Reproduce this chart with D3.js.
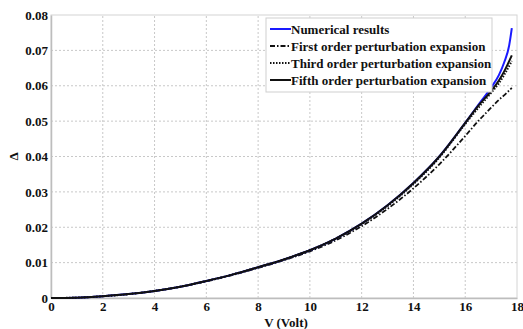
<!DOCTYPE html>
<html>
<head>
<meta charset="utf-8">
<script src="https://cdnjs.cloudflare.com/ajax/libs/d3/7.8.5/d3.min.js"></script>
<style>
  body { margin: 0; background: #fff; }
  text { font-family: "Liberation Serif", "Times New Roman", serif; font-weight: bold; }
</style>
</head>
<body>
<div id="chart"></div>
<script>
// values
var voltNum   = [0, 1, 2, 3, 4, 5, 6, 7, 8, 9, 10, 11, 12, 13, 14, 15, 16, 16.5, 17, 17.3, 17.5, 17.7, 17.8];
var numerical = [0, 0.0001, 0.0005, 0.0011, 0.002, 0.0032, 0.0048, 0.0066, 0.0087, 0.0109, 0.0135, 0.0168, 0.021, 0.0262, 0.0325, 0.040, 0.0495, 0.0545, 0.0595, 0.063, 0.0665, 0.0715, 0.0763];

var voltPert  = [0, 1, 2, 3, 4, 5, 6, 7, 8, 9, 10, 11, 12, 13, 14, 15, 16, 16.5, 17, 17.3, 17.5, 17.8];
var fifth     = [0, 0.0001, 0.0005, 0.0011, 0.002, 0.0032, 0.0048, 0.0066, 0.0087, 0.0109, 0.0135, 0.0168, 0.021, 0.0262, 0.0325, 0.040, 0.0495, 0.0543, 0.0585, 0.0615, 0.064, 0.0686];
var third     = [0, 0.0001, 0.0005, 0.0011, 0.002, 0.0032, 0.0048, 0.0066, 0.0087, 0.0109, 0.0135, 0.0168, 0.0209, 0.026, 0.0322, 0.0397, 0.0492, 0.0537, 0.058, 0.0607, 0.063, 0.067];
var first     = [0, 0.0001, 0.0005, 0.0011, 0.002, 0.0032, 0.0047, 0.0065, 0.0085, 0.0107, 0.0132, 0.0163, 0.0203, 0.0252, 0.031, 0.0378, 0.0458, 0.050, 0.0538, 0.056, 0.0573, 0.0594];

var xTicks = [0, 2, 4, 6, 8, 10, 12, 14, 16, 18];
var yTicks = [0, 0.01, 0.02, 0.03, 0.04, 0.05, 0.06, 0.07, 0.08];

var legendNames = ["Numerical results", "First order perturbation expansion",
                   "Third order perturbation expansion", "Fifth order perturbation expansion"];

var width = 523, height = 329;
var margin = {top: 15, right: 6, bottom: 31, left: 51};

var svg = d3.select("#chart").append("svg")
    .attr("width", width).attr("height", height);

var x = d3.scaleLinear().domain([0, 18]).range([margin.left, width - margin.right]);
var y = d3.scaleLinear().domain([0, 0.08]).range([height - margin.bottom, margin.top]);

// grid
svg.append("g").selectAll("line").data(xTicks.slice(1, -1)).enter().append("line")
    .attr("x1", d => x(d)).attr("x2", d => x(d))
    .attr("y1", y(0)).attr("y2", y(0.08))
    .attr("stroke", "#c8c8c8").attr("stroke-dasharray", "2,2");
svg.append("g").selectAll("line").data(yTicks.slice(1, -1)).enter().append("line")
    .attr("x1", x(0)).attr("x2", x(18))
    .attr("y1", d => y(d)).attr("y2", d => y(d))
    .attr("stroke", "#c8c8c8").attr("stroke-dasharray", "2,2");

// frame
svg.append("rect")
    .attr("x", x(0)).attr("y", y(0.08))
    .attr("width", x(18) - x(0)).attr("height", y(0) - y(0.08))
    .attr("fill", "none").attr("stroke", "#d4d4d4").attr("stroke-width", 1);

// axes
var xAxis = svg.append("g").attr("transform", "translate(0," + y(0) + ")")
    .call(d3.axisBottom(x).tickValues(xTicks).tickSize(0).tickPadding(4));
var yAxis = svg.append("g").attr("transform", "translate(" + x(0) + ",0)")
    .call(d3.axisLeft(y).tickValues(yTicks).tickSize(0).tickPadding(3)
        .tickFormat(d => d === 0 ? "0" : d3.format(".2f")(d)));
[xAxis, yAxis].forEach(function(g) {
  g.select(".domain").attr("stroke", "#bdbdbd").attr("stroke-width", 1.5);
  g.selectAll("text").attr("font-size", 13).attr("fill", "#111")
    .style("font-family", "Liberation Serif").style("font-weight", "bold");
});

svg.append("text").attr("x", (x(0) + x(18)) / 2 + 2).attr("y", 327)
    .attr("text-anchor", "middle").attr("font-size", 13).attr("fill", "#111")
    .text("V (Volt)");
svg.append("text")
    .attr("transform", "translate(18," + y(0.04) + ") rotate(-90)")
    .attr("text-anchor", "middle").attr("font-size", 13).attr("fill", "#111")
    .text("Δ");

// curves
var line = d3.line().curve(d3.curveMonotoneX);
function pts(xs, ys) { return xs.map((v, i) => [x(v), y(ys[i])]); }

var series = [
  {xs: voltPert, ys: first, color: "#111", dash: "5,2,1.5,2", w: 1.8},
  {xs: voltNum, ys: numerical, color: "#1a1aff", dash: null, w: 2},
  {xs: voltPert, ys: third, color: "#111", dash: "1.5,1.5", w: 2},
  {xs: voltPert, ys: fifth, color: "#111", dash: null, w: 2}
];
series.forEach(function(s) {
  svg.append("path")
    .attr("d", line(pts(s.xs, s.ys)))
    .attr("fill", "none").attr("stroke", s.color).attr("stroke-width", s.w)
    .attr("stroke-dasharray", s.dash);
});

// legend
var legend = svg.append("g").attr("transform", "translate(266,18)");
legend.append("rect").attr("width", 226).attr("height", 74)
    .attr("fill", "#fff").attr("stroke", "#cfcfcf");
var legendStyle = [
  {color: "#1a1aff", dash: null},
  {color: "#111", dash: "5,2,1.5,2"},
  {color: "#111", dash: "1.5,1.5"},
  {color: "#111", dash: null}
];
legendNames.forEach(function(n, i) {
  var yy = 11 + i * 17;
  legend.append("line").attr("x1", 4).attr("x2", 25).attr("y1", yy).attr("y2", yy)
    .attr("stroke", legendStyle[i].color).attr("stroke-width", 2)
    .attr("stroke-dasharray", legendStyle[i].dash);
  legend.append("text").attr("x", 25).attr("y", yy + 4.5)
    .attr("font-size", 13).attr("fill", "#111").text(n);
});
</script>
</body>
</html>
